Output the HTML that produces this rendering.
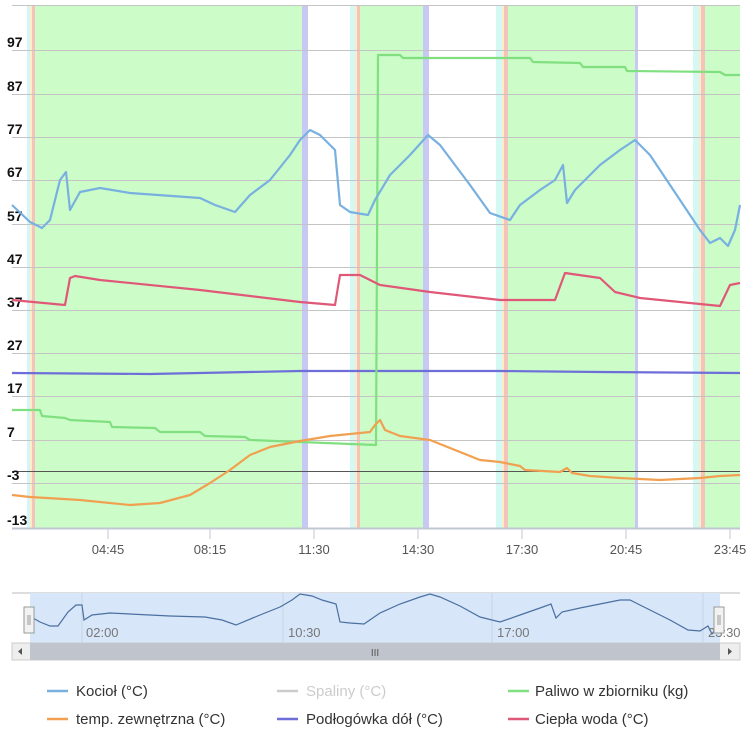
<!DOCTYPE html>
<html><head><meta charset="utf-8"><style>
body{margin:0;background:#fff;width:750px;height:750px;overflow:hidden;font-family:"Liberation Sans",sans-serif}
</style></head><body>
<svg width="750" height="750" xmlns="http://www.w3.org/2000/svg" style="position:absolute;left:0;top:0">
<rect x="35" y="5" width="267" height="523" fill="#ccfcc8"/>
<rect x="360" y="5" width="63" height="523" fill="#ccfcc8"/>
<rect x="508" y="5" width="128" height="523" fill="#ccfcc8"/>
<rect x="705" y="5" width="35" height="523" fill="#ccfcc8"/>
<rect x="27" y="5" width="3" height="523" fill="#d4f6f8"/>
<rect x="30" y="5" width="2" height="523" fill="#fcecc8"/>
<rect x="32" y="5" width="3" height="523" fill="#f4c4bc"/>
<rect x="350" y="5" width="5" height="523" fill="#d4f8f4"/>
<rect x="355" y="5" width="2" height="523" fill="#fcecc8"/>
<rect x="357" y="5" width="3" height="523" fill="#f4c4bc"/>
<rect x="496" y="5" width="6" height="523" fill="#d4f8f4"/>
<rect x="502" y="5" width="2" height="523" fill="#fcecc8"/>
<rect x="504" y="5" width="4" height="523" fill="#f4c4bc"/>
<rect x="693" y="5" width="6" height="523" fill="#d4f8f4"/>
<rect x="699" y="5" width="2" height="523" fill="#fcecc8"/>
<rect x="701" y="5" width="4" height="523" fill="#f4c4bc"/>
<rect x="302" y="5" width="6" height="523" fill="#c8c8f4"/>
<rect x="423" y="5" width="6" height="523" fill="#c8c8f4"/>
<rect x="635" y="5" width="3" height="523" fill="#c8c8f4"/>
<g stroke="#c4c4c4" stroke-width="1">
<line x1="12" x2="740" y1="5.5" y2="5.5"/><line x1="12" x2="740" y1="50.5" y2="50.5"/><line x1="12" x2="740" y1="94.5" y2="94.5"/><line x1="12" x2="740" y1="137.5" y2="137.5"/><line x1="12" x2="740" y1="180.5" y2="180.5"/><line x1="12" x2="740" y1="224.5" y2="224.5"/><line x1="12" x2="740" y1="267.5" y2="267.5"/><line x1="12" x2="740" y1="310.5" y2="310.5"/><line x1="12" x2="740" y1="353.5" y2="353.5"/><line x1="12" x2="740" y1="396.5" y2="396.5"/><line x1="12" x2="740" y1="440.5" y2="440.5"/><line x1="12" x2="740" y1="483.5" y2="483.5"/>
</g>
<line x1="12" x2="740" y1="471.5" y2="471.5" stroke="#555" stroke-width="1"/>
<line x1="12" x2="740" y1="528.5" y2="528.5" stroke="#c0c8d4" stroke-width="2"/>
<g stroke="#c0c8d4"><line x1="108" x2="108" y1="529" y2="539"/><line x1="210" x2="210" y1="529" y2="539"/><line x1="314" x2="314" y1="529" y2="539"/><line x1="418" x2="418" y1="529" y2="539"/><line x1="522" x2="522" y1="529" y2="539"/><line x1="626" x2="626" y1="529" y2="539"/><line x1="730" x2="730" y1="529" y2="539"/></g>
<g font-size="14" font-weight="bold" fill="#111">
<text x="7" y="47">97</text><text x="7" y="91">87</text><text x="7" y="134">77</text><text x="7" y="177">67</text><text x="7" y="221">57</text><text x="7" y="264">47</text><text x="7" y="307">37</text><text x="7" y="350">27</text><text x="7" y="393">17</text><text x="7" y="437">7</text><text x="7" y="480">-3</text><text x="7" y="525">-13</text>
</g>
<g font-size="13" fill="#555" text-anchor="middle">
<text x="108" y="554">04:45</text><text x="210" y="554">08:15</text><text x="314" y="554">11:30</text><text x="418" y="554">14:30</text><text x="522" y="554">17:30</text><text x="626" y="554">20:45</text><text x="730" y="554">23:45</text>
</g>
<g fill="none" stroke-width="2.2" stroke-linejoin="round">
<polyline stroke="#6e6ed8" points="12,373 150,374 300,371 500,371 600,372 740,373"/>
<polyline stroke="#80e080" points="12,410 40,410 42,416 65,418 70,420 110,422 112,427 155,428 160,432 200,432 205,436 245,437 250,440 300,442 376,445 378,55 400,55 403,58 530,58 533,62 580,63 583,67 625,67 627,71 720,72 725,75 740,75"/>
<polyline stroke="#f0a050" points="12,495 30,497 80,500 130,505 160,503 190,495 210,483 230,470 250,455 270,447 300,441 330,436 370,432 375,425 380,420 385,430 400,436 430,440 460,452 480,460 500,462 520,466 525,470 560,472 567,468 572,473 590,476 620,478 660,480 700,478 720,476 740,475"/>
<polyline stroke="#e05878" points="12,300 65,305 70,278 75,276 100,280 200,290 250,296 300,302 335,305 340,275 360,275 380,285 430,292 500,300 555,300 565,273 600,278 615,292 640,298 720,306 730,285 740,283"/>
<polyline stroke="#78b0e0" points="12,205 30,222 42,228 50,220 60,180 66,172 70,210 80,192 100,188 130,193 200,198 215,205 235,212 250,195 270,180 290,155 300,140 310,130 320,135 335,150 340,205 350,212 368,215 375,200 390,175 410,155 428,135 440,145 470,185 490,213 510,220 520,205 540,190 555,180 563,165 567,203 575,190 600,165 620,150 635,140 650,155 680,200 700,230 710,243 720,238 728,246 735,230 740,205"/>
</g>
<line x1="12" x2="740" y1="593" y2="593" stroke="#bbb"/>
<rect x="30" y="593" width="690" height="50" fill="#d7e6f8"/>
<g stroke="#c8d4e4"><line x1="82" x2="82" y1="593" y2="643"/><line x1="283" x2="283" y1="593" y2="643"/><line x1="492" x2="492" y1="593" y2="643"/><line x1="703" x2="703" y1="593" y2="643"/></g>
<polyline fill="none" stroke="#4a70a0" stroke-width="1.2" points="33,618 40,622 50,626 58,626 68,612 76,605 82,605 84,620 92,615 110,613 170,616 205,617 222,620 236,625 260,615 280,607 292,600 300,594 312,596 322,600 336,604 340,622 350,623 364,624 380,613 400,604 420,597 430,594 440,597 460,606 480,617 500,622 520,615 540,608 551,604 556,618 562,612 580,608 600,604 620,600 630,600 650,610 670,620 688,630 700,631 708,626 712,634 716,630"/>
<g font-size="13" fill="#777"><text x="86" y="637">02:00</text><text x="288" y="637">10:30</text><text x="497" y="637">17:00</text><text x="708" y="637">23:30</text></g>
<rect x="24" y="607" width="10" height="26" fill="#f2f2f2" stroke="#999"/>
<rect x="714" y="607" width="10" height="26" fill="#f2f2f2" stroke="#999"/>
<g stroke="#999"><line x1="28" x2="28" y1="615" y2="625"/><line x1="30" x2="30" y1="615" y2="625"/><line x1="718" x2="718" y1="615" y2="625"/><line x1="720" x2="720" y1="615" y2="625"/></g>
<rect x="12" y="643" width="728" height="17" fill="#eee" stroke="#ccc"/>
<rect x="30" y="643" width="690" height="17" fill="#c0c4cc"/>
<text x="375" y="656" font-size="10" fill="#555" text-anchor="middle">III</text>
<polygon points="22,648 22,655 18,651.5" fill="#555"/>
<polygon points="728,648 728,655 732,651.5" fill="#555"/>
<g stroke-width="2.5">
<line x1="47" x2="68" y1="691" y2="691" stroke="#78b0e0"/>
<line x1="277" x2="298" y1="691" y2="691" stroke="#ccc"/>
<line x1="508" x2="529" y1="691" y2="691" stroke="#80e080"/>
<line x1="47" x2="68" y1="719" y2="719" stroke="#f0a050"/>
<line x1="277" x2="298" y1="719" y2="719" stroke="#6e6ed8"/>
<line x1="508" x2="529" y1="719" y2="719" stroke="#e05878"/>
</g>
<g font-size="15" fill="#333">
<text x="76" y="696">Kocioł (°C)</text>
<text x="306" y="696" fill="#ccc">Spaliny (°C)</text>
<text x="535" y="696">Paliwo w zbiorniku (kg)</text>
<text x="76" y="724">temp. zewnętrzna (°C)</text>
<text x="306" y="724">Podłogówka dół (°C)</text>
<text x="535" y="724">Ciepła woda (°C)</text>
</g>
</svg>
</body></html>
